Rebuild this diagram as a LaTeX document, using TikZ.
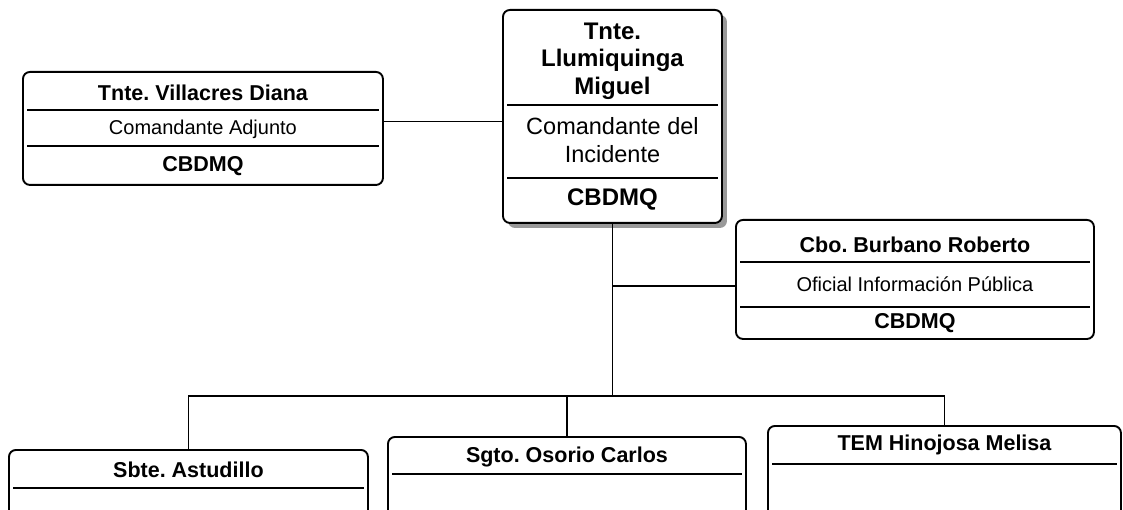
\documentclass[tikz,border=0pt]{standalone}
\usepackage{fontspec}
\setmainfont{Liberation Sans}
\usetikzlibrary{calc,shadows}
\frenchspacing
\begin{document}
\begin{tikzpicture}[x=1pt,y=-1pt,
  box/.style={draw=black, line width=1.9pt, rounded corners=7pt, fill=white, inner sep=0pt, anchor=north west},
  shadowed/.style={drop shadow={shadow xshift=5pt,shadow yshift=-5pt,fill=black!40,opacity=1}},
  sepline/.style={line width=1.8pt},
  conn/.style={line width=1.7pt},
  tb/.style={font=\fontsize{21.5}{25}\selectfont\bfseries, align=center, inner sep=0pt},
  tr/.style={font=\fontsize{20}{24}\selectfont, align=center, inner sep=0pt},
  bt/.style={font=\fontsize{24}{27.5}\selectfont\bfseries, align=center, inner sep=0pt},
  br/.style={font=\fontsize{23.5}{27.5}\selectfont, align=center, inner sep=0pt},
]
\useasboundingbox (0,0) rectangle (1123,510);
\fill[white] (0,0) rectangle (1123,510);
\clip (0,0) rectangle (1123,510);

% boxes
\node[box, minimum width=360pt, minimum height=113pt] (villa) at (22,71) {};
\node[box, shadowed, minimum width=219pt, minimum height=213pt] (llum) at (502,9) {};
\node[box, minimum width=358pt, minimum height=119pt] (burb) at (735,219) {};
\node[box, minimum width=359pt, minimum height=150pt] (astu) at (8,449) {};
\node[box, minimum width=358pt, minimum height=150pt] (osor) at (387,436) {};
\node[box, minimum width=353pt, minimum height=150pt] (hino) at (767,425) {};

% Villacres
\node[tb] (villaT) at ($(villa.north)+(0,22)$) {Tnte. Villacres Diana};
\draw[sepline] ($(villa.north west)+(5,39)$) -- ($(villa.north east)+(-5,39)$);
\node[tr] (villaR) at ($(villa.north)+(0,58)$) {Comandante Adjunto};
\draw[sepline] ($(villa.north west)+(5,75)$) -- ($(villa.north east)+(-5,75)$);
\node[tb] (villaO) at ($(villa.north)+(0,95)$) {CBDMQ};

% Llumiquinga
\node[bt] (llumT) at ($(llum.north)+(0,52)$) {Tnte.\\Llumiquinga\\Miguel};
\draw[sepline] ($(llum.north west)+(5,96)$) -- ($(llum.north east)+(-5,96)$);
\node[br] (llumR) at ($(llum.north)+(0,131)$) {Comandante del\\Incidente};
\draw[sepline] ($(llum.north west)+(5,169)$) -- ($(llum.north east)+(-5,169)$);
\node[bt] (llumO) at ($(llum.north)+(0,190)$) {CBDMQ};

% Burbano
\node[tb] (burbT) at ($(burb.north)+(0,26)$) {Cbo. Burbano Roberto};
\draw[sepline] ($(burb.north west)+(5,43)$) -- ($(burb.north east)+(-5,43)$);
\node[tr] (burbR) at ($(burb.north)+(0,65)$) {Oficial Información Pública};
\draw[sepline] ($(burb.north west)+(5,88)$) -- ($(burb.north east)+(-5,88)$);
\node[tb] (burbO) at ($(burb.north)+(0,104)$) {CBDMQ};

% bottom row
\node[tb] (astuT) at ($(astu.north)+(0,21)$) {Sbte. Astudillo};
\draw[sepline] ($(astu.north west)+(5,39)$) -- ($(astu.north east)+(-5,39)$);
\node[tb] (osorT) at ($(osor.north)+(0,21)$) {Sgto. Osorio Carlos};
\draw[sepline] ($(osor.north west)+(5,38)$) -- ($(osor.north east)+(-5,38)$);
\node[tb] (hinoT) at ($(hino.north)+(0,20)$) {TEM Hinojosa Melisa};
\draw[sepline] ($(hino.north west)+(5,39)$) -- ($(hino.north east)+(-5,39)$);

% connectors
\draw[conn] ($(villa.east)+(0,-7)$) coordinate (vc) -- (vc -| llum.west);
\coordinate (pj) at ($(llum.south)+(0,62)$);
\coordinate (bj) at ($(llum.south)+(0,172)$);
\draw[conn] (llum.south) -- (bj);
\draw[conn] (pj) -- (pj -| burb.west);
\draw[conn] (astu.north) -- (astu.north |- bj) -- (hino.north |- bj) -- (hino.north);
\draw[conn] (osor.north) -- (osor.north |- bj);
\end{tikzpicture}
\end{document}
